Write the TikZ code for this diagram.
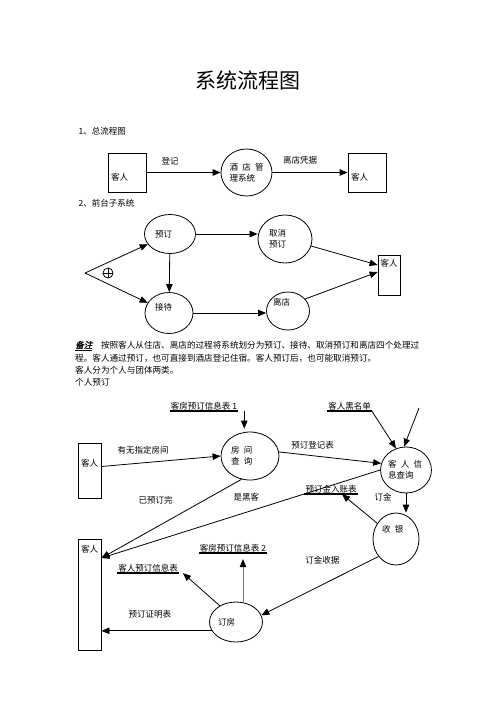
\documentclass[tikz,border=0pt]{standalone}
\usepackage{fontspec}
\setmainfont{Noto Sans CJK SC}
\newfontfamily\slantfont[FakeSlant=0.25, FakeBold=2]{Noto Sans CJK SC}
\usetikzlibrary{shapes.geometric, arrows.meta, positioning, calc}
\newcommand\cgap{\hspace{0.5em}}

\begin{document}
\begin{tikzpicture}[
  x=1pt, y=-1pt,
  every node/.style={font=\fontsize{8.5}{11}\selectfont},
  ent/.style={rectangle, draw, line width=0.8pt, inner sep=0},
  proc/.style={ellipse, draw, line width=0.8pt, inner sep=0, align=left},
  store/.style={inner sep=1pt},
  lbl/.style={inner sep=1pt},
  note/.style={anchor=west, inner sep=0, font=\fontsize{8.6}{10}\selectfont},
  flow/.style={-{Triangle[length=8pt, width=6.5pt]}, line width=0.8pt},
  rule/.style={line width=1.6pt}
]
\useasboundingbox (0,0) rectangle (496,702);

\node[font=\fontsize{21}{24}\selectfont] (title) at (248,80) {系统流程图};

% 1: overall flow
\node[anchor=west] (sec1) at (75,131) {1、总流程图};
\node[ent, minimum width=38, minimum height=39, label={[anchor=west, yshift=-4.5pt]west:客人}] (guestA) at (127,172.5) {};
\node[proc, minimum width=51, minimum height=47] (hms) at (246.5,172.5) {酒\cgap 店\cgap 管\\理系统};
\node[ent, minimum width=38, minimum height=39, label={[anchor=west, yshift=-4.5pt]west:客人}] (guestB) at (367,172.5) {};

\draw[flow] (guestA.east) -- node[lbl, pos=0.32, above=6.5pt] {登记} (hms.west);
\draw[flow] (hms.east) -- node[lbl, pos=0.37, above=6.5pt] {离店凭据} (guestB.west);

% 2: front desk subsystem
\node[anchor=west] (sec2) at (75,203) {2、前台子系统};
\node[proc, minimum width=51, minimum height=39, text width=30pt] (book) at (170,234) {预订};
\node[proc, minimum width=54, minimum height=48, text width=32pt] (cancel) at (285,239) {取消\\预订};
\node[proc, minimum width=48, minimum height=41, text width=28pt, text depth=13pt] (recv) at (169,313) {接待};
\node[proc, minimum width=43, minimum height=38, text width=30pt, text depth=19pt] (leave) at (288,311) {离店};
\node[ent, minimum width=22, minimum height=40, label={[yshift=12pt]center:客人}] (guestC) at (389,275) {};

\coordinate (split) at (85,273);
\node[circle, draw, line width=0.8pt, minimum size=10pt, inner sep=0] (xor) at (108,273) {};
\draw[line width=0.8pt] (xor.north) -- (xor.south) (xor.west) -- (xor.east);

\draw[flow] (split) -- (book);
\draw[flow] (split) -- (recv);
\draw[flow] (book.east) -- (book.east -| cancel.west);
\draw[flow] (book) -- (recv);
\draw[flow] (recv.east) -- (recv.east -| leave.west);
\draw[flow] (cancel.-15) -- ([yshift=10pt]guestC.west);
\draw[flow] (leave.35) -- ([yshift=3pt]guestC.west);

% remark
\node[note] (note1) at (75,346) {\underline{{\slantfont 备注}}\hspace{1em}按照客人从住店、离店的过程将系统划分为预订、接待、取消预订和离店四个处理过};
\node[note] (note2) at (75,358) {程。客人通过预订，也可直接到酒店登记住宿。客人预订后，也可能取消预订。};
\node[note] (note3) at (75,370) {客人分为个人与团体两类。};
\node[note] (note4) at (75,382) {个人预订};

% 3: individual booking
\node[store] (rtab1) at (204,406) {客房预订信息表 1};
\node[store] (blk) at (349.5,406) {客人黑名单};
\node[store] (deposit) at (331,489) {预订金入账表};
\node[store] (rtab2) at (233,548) {客房预订信息表 2};
\node[store] (gtab) at (148,568) {客人预订信息表};
\foreach \s in {rtab1, blk, deposit, rtab2, gtab}
  \draw[rule] (\s.south west) -- (\s.south east);

\node[proc, minimum width=58, minimum height=48, text width=38pt, text depth=13pt] (query) at (250,456) {房\cgap 间\\查\cgap 询};
\node[proc, minimum width=48, minimum height=46, text width=36pt] (ginfo) at (406,470) {客\cgap 人\cgap 信\\息查询};
\node[proc, minimum width=46, minimum height=52, text width=28pt, text depth=21pt] (cash) at (396,539) {收\cgap 银};
\node[proc, minimum width=53, minimum height=40, text width=36pt] (order) at (236,622) {订房};
\node[ent, minimum width=23, minimum height=55, label={[yshift=7.5pt]center:客人}] (guestD) at (89.5,470.5) {};
\node[ent, minimum width=23, minimum height=111, label={[yshift=45.5pt]center:客人}] (guestE) at (89.5,594.5) {};
\coordinate (ext) at (419,408);

\draw[flow] ($(rtab1.south east)+(6,0)$) -- ($(rtab1.south east |- query.north)+(6,-3)$);
\draw[flow] (blk.south east) -- (ginfo.115);
\draw[flow] (ext) -- (ginfo.95);
\draw[flow] ([yshift=4pt]guestD.east) -- node[lbl, pos=0.35, above=7pt] {有无指定房间} (query.west);
\draw[flow] (query.8) -- node[lbl, pos=0.33, above=5pt] {预订登记表} (ginfo.165);
\draw[flow] (query.250) -- node[lbl, pos=0.26, left=31pt] {已预订完} ([yshift=36.5pt]guestE.east);
\draw[flow] (ginfo.west) -- node[lbl, pos=0.48, above=10pt] {是黑客} ([yshift=36.5pt]guestE.east);
\draw[flow] (ginfo.south) -- node[lbl, pos=0.2, left=13pt] {订金} (ginfo.south |- cash.north);
\draw[flow] (cash.140) -- ([xshift=11pt]deposit.south);
\draw[flow] (cash.225) -- node[lbl, pos=0.48, above=19pt] {订金收据} (order.15);
\draw[flow, draw=black!55, -{Triangle[length=8pt, width=6.5pt, color=black]}] ($(order.north)+(7,0)$) -- ($(order.north |- rtab2.south)+(7,6)$);
\draw[flow] (order.135) -- ([xshift=4pt]gtab.south east);
\draw[flow] (order.200) -- node[lbl, pos=0.56, above=11pt] {预订证明表} (order.200 -| guestE.east);

\end{tikzpicture}
\end{document}
